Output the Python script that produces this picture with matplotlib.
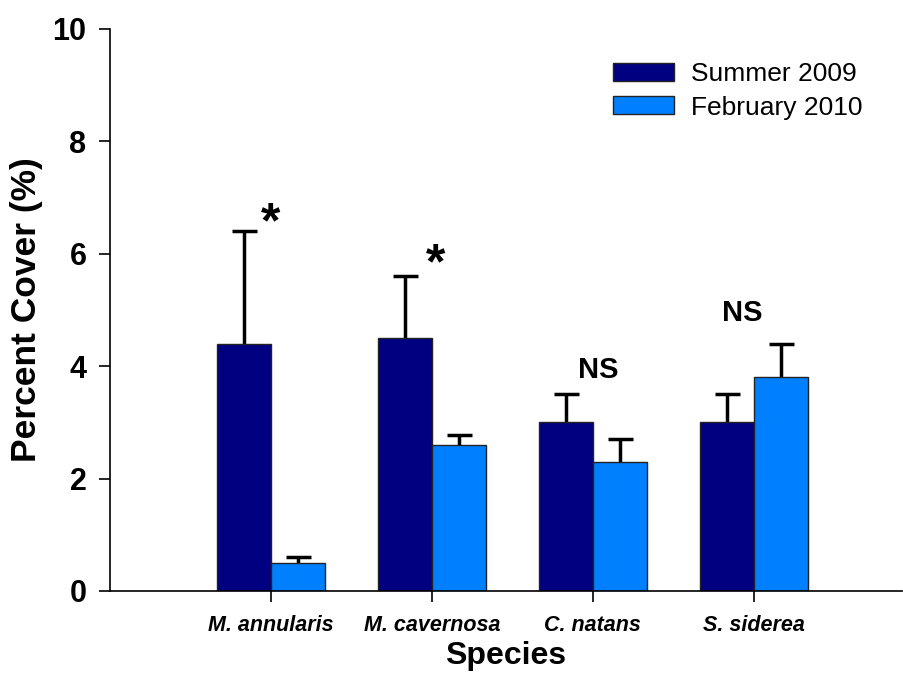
import numpy as np
import matplotlib.pyplot as plt
from matplotlib.patches import Patch

# Donnees
species = ['M. annularis', 'M. cavernosa', 'C. natans', 'S. siderea']
summer = [4.4, 4.5, 3.0, 3.0]
summer_err = [2.0, 1.1, 0.5, 0.5]
feb = [0.5, 2.6, 2.3, 3.8]
feb_err = [0.1, 0.18, 0.4, 0.6]
marks = ['*', '*', 'NS', 'NS']
mark_pos = [(0.0, 6.74), (0.02, 6.01), (0.03, 3.93), (-0.07, 4.95)]

plt.rcParams['font.family'] = ['Liberation Sans', 'DejaVu Sans']

fig = plt.figure(figsize=(9.04, 6.75), dpi=100)
ax = fig.add_axes([110/904, 84/675, 792/904, 562/675])

x = np.arange(len(species))
w = 0.333
ax.bar(x - w/2, summer, w, color='#000080', edgecolor='#222222', linewidth=1,
       label='Summer 2009', zorder=2)
ax.bar(x + w/2, feb, w, color='#0080FF', edgecolor='#222222', linewidth=1,
       label='February 2010', zorder=2)

# barres d'erreur vers le haut seulement
for xs, ys, es in [(x - w/2, summer, summer_err), (x + w/2, feb, feb_err)]:
    eb = ax.errorbar(xs, ys, yerr=[np.zeros(len(es)), es], fmt='none',
                     ecolor='black', elinewidth=2.5, capsize=9, capthick=2.5, zorder=1)
    eb[1][0].set_visible(False)

for i, (m, (dx, yy)) in enumerate(zip(marks, mark_pos)):
    if m == '*':
        ax.text(i + dx, yy - 0.22, m, ha='center', va='center', fontsize=36, fontweight='bold')
    else:
        ax.text(i + dx, yy, m, ha='center', va='center', fontsize=21, fontweight='bold')

ax.set_xlim(-1.0, 3.92)
ax.set_ylim(0, 10)
ax.set_yticks([0, 2, 4, 6, 8, 10])
ax.set_xticks(x)
ax.set_xticklabels(species, fontstyle='italic', fontweight='bold', fontsize=15.5)
ax.tick_params(axis='y', labelsize=22, length=8, width=1.2, pad=9)
ax.tick_params(axis='x', length=8, width=1.2, pad=9)
for lab in ax.get_yticklabels():
    lab.set_fontweight('bold')

ax.spines['top'].set_visible(False)
ax.spines['right'].set_visible(False)
ax.spines['left'].set_linewidth(1.2)
ax.spines['bottom'].set_linewidth(1.2)

ax.set_ylabel('Percent Cover (%)', fontsize=25.5, fontweight='bold', labelpad=7)
ax.set_xlabel('Species', fontsize=23, fontweight='bold', labelpad=4)

handles = [Patch(facecolor='#000080', edgecolor='#222222', label='Summer 2009'),
           Patch(facecolor='#0080FF', edgecolor='#222222', label='February 2010')]
ax.legend(handles=handles, loc='upper right', bbox_to_anchor=(0.98, 0.983),
          frameon=False, fontsize=19, handlelength=2.3, handleheight=0.65,
          handletextpad=0.65, labelspacing=0.35)

plt.savefig('out.png', dpi=100)
